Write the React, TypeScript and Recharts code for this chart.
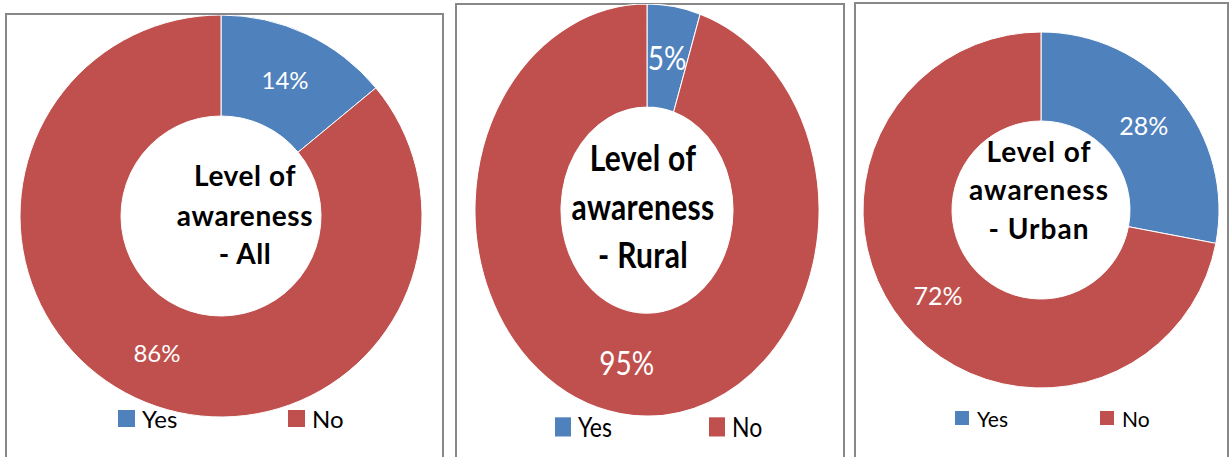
import React from 'react';
import { PieChart, Pie, Cell, Legend, Label } from 'recharts';

const CATEGORIES = ['Yes', 'No'];
const ALL_VALUES = [14, 86];
const RURAL_VALUES = [5, 95];
const URBAN_VALUES = [28, 72];
const TITLE_LINES = ['Level of', 'awareness'];
const PANEL_SUFFIX = ['- All', '- Rural', '- Urban'];

const COLORS: Record<string, string> = { Yes: '#4F81BD', No: '#C0504D' };
const FONT = 'Lato, "Open Sans", sans-serif';
const RADIAN = Math.PI / 180;

const toData = (values: number[]) => CATEGORIES.map((c, i) => ({ name: c, value: values[i] }));

type PanelCfg = {
  values: number[];
  suffix: string;
  width: number;
  height: number;
  cx: number;
  cy: number;
  outer: number;
  inner: number;
  pctSize: number;
  titleSize: number;
  titleDx: number;
  titleSpacing: number;
  titleOffsets: number[];
  legendTop: number;
  legendSquare: number;
  legendFont: number;
  legendItems: { sq: number; tx: number }[];
};

const makeLabel = (size: number) => (props: any) => {
  const { cx, cy, midAngle, innerRadius, outerRadius, value } = props;
  const r = (innerRadius + outerRadius) / 2;
  const x = cx + r * Math.cos(-midAngle * RADIAN);
  const y = cy + r * Math.sin(-midAngle * RADIAN);
  return (
    <text x={x} y={y} fill="#ffffff" textAnchor="middle" dominantBaseline="central" fontFamily={FONT} fontSize={size}>
      {`${value}%`}
    </text>
  );
};

const DonutPanel = ({ cfg }: { cfg: PanelCfg }) => {
  const data = toData(cfg.values);
  const lines = [...TITLE_LINES, cfg.suffix];
  const legendContent = (props: any) => {
    const payload = [...(props.payload || [])].sort(
      (a: any, b: any) => CATEGORIES.indexOf(a.value) - CATEGORIES.indexOf(b.value)
    );
    return (
      <div style={{ position: 'relative', width: cfg.width, height: cfg.legendSquare + 10 }}>
        {payload.map((p: any, i: number) => (
          <React.Fragment key={p.value}>
            <div
              style={{
                position: 'absolute',
                left: cfg.legendItems[i].sq,
                top: 0,
                width: cfg.legendSquare,
                height: cfg.legendSquare,
                background: COLORS[p.value],
              }}
            />
            <div
              style={{
                position: 'absolute',
                left: cfg.legendItems[i].tx,
                top: cfg.legendSquare / 2,
                transform: 'translateY(-50%)',
                fontFamily: FONT,
                fontSize: cfg.legendFont,
                color: '#000',
                lineHeight: 1,
                whiteSpace: 'nowrap',
              }}
            >
              {p.value}
            </div>
          </React.Fragment>
        ))}
      </div>
    );
  };
  return (
    <PieChart width={cfg.width} height={cfg.height} margin={{ top: 0, right: 0, bottom: 0, left: 0 }}>
      <Pie
        data={data}
        dataKey="value"
        nameKey="name"
        cx={cfg.cx}
        cy={cfg.cy}
        outerRadius={cfg.outer}
        innerRadius={cfg.inner}
        startAngle={90}
        endAngle={-270}
        stroke="#ffffff"
        strokeWidth={1}
        isAnimationActive={false}
        labelLine={false}
        label={makeLabel(cfg.pctSize)}
      >
        {data.map((d) => (
          <Cell key={d.name} fill={COLORS[d.name]} />
        ))}
        <Label
          position="center"
          content={() => (
            <text
              textAnchor="middle"
              fontFamily={FONT}
              fontWeight="bold"
              fontSize={cfg.titleSize}
              letterSpacing={cfg.titleSpacing}
              fill="#000"
            >
              {lines.map((l, i) => (
                <tspan key={i} x={cfg.cx + cfg.titleDx} y={cfg.cy + cfg.titleOffsets[i]}>
                  {l}
                </tspan>
              ))}
            </text>
          )}
        />
      </Pie>
      <Legend
        content={legendContent}
        wrapperStyle={{ position: 'absolute', left: 0, top: cfg.legendTop, bottom: 'auto', right: 'auto', width: cfg.width }}
      />
    </PieChart>
  );
};

const PANEL1: PanelCfg = {
  values: ALL_VALUES,
  suffix: PANEL_SUFFIX[0],
  width: 435,
  height: 442,
  cx: 214,
  cy: 201,
  outer: 201,
  inner: 100,
  pctSize: 24,
  titleSize: 28,
  titleDx: 24,
  titleSpacing: 0.6,
  titleOffsets: [-30, 10, 48],
  legendTop: 395,
  legendSquare: 17,
  legendFont: 24,
  legendItems: [
    { sq: 111, tx: 135 },
    { sq: 281, tx: 305 },
  ],
};

const SCALE2 = 1.198;
const PANEL2: PanelCfg = {
  values: RURAL_VALUES,
  suffix: PANEL_SUFFIX[1],
  width: 386,
  height: 380,
  cx: 190,
  cy: 172,
  outer: 172,
  inner: 86,
  pctSize: 28,
  titleSize: 30,
  titleDx: -4,
  titleSpacing: 0.3,
  titleOffsets: [-33, 8, 48],
  legendTop: 345,
  legendSquare: 16,
  legendFont: 23,
  legendItems: [
    { sq: 98, tx: 121 },
    { sq: 252, tx: 275 },
  ],
};

const PANEL3: PanelCfg = {
  values: URBAN_VALUES,
  suffix: PANEL_SUFFIX[2],
  width: 371,
  height: 452,
  cx: 184,
  cy: 205,
  outer: 178,
  inner: 89,
  pctSize: 25,
  titleSize: 28,
  titleDx: -2,
  titleSpacing: 1,
  titleOffsets: [-48, -10, 29],
  legendTop: 406,
  legendSquare: 14,
  legendFont: 21,
  legendItems: [
    { sq: 98, tx: 120 },
    { sq: 243, tx: 265 },
  ],
};

const border = '2px solid #888888';

export default function App() {
  return (
    <div style={{ position: 'absolute', left: 0, top: 0, width: 1230, height: 457, overflow: 'hidden', background: '#fff' }}>
      <div style={{ position: 'absolute', left: 5, top: 13, width: 435, height: 460, borderLeft: border, borderRight: border, borderTop: border }} />
      <div style={{ position: 'absolute', left: 7, top: 15 }}>
        <DonutPanel cfg={PANEL1} />
      </div>
      <div style={{ position: 'absolute', left: 455, top: 3, width: 386, height: 470, borderLeft: border, borderRight: border, borderTop: border }} />
      <div style={{ position: 'absolute', left: 457, top: 4, transform: `scaleY(${SCALE2})`, transformOrigin: 'top left' }}>
        <DonutPanel cfg={PANEL2} />
      </div>
      <div style={{ position: 'absolute', left: 854, top: 2, width: 371, height: 470, borderLeft: border, borderRight: border, borderTop: border }} />
      <div style={{ position: 'absolute', left: 857, top: 5 }}>
        <DonutPanel cfg={PANEL3} />
      </div>
    </div>
  );
}
